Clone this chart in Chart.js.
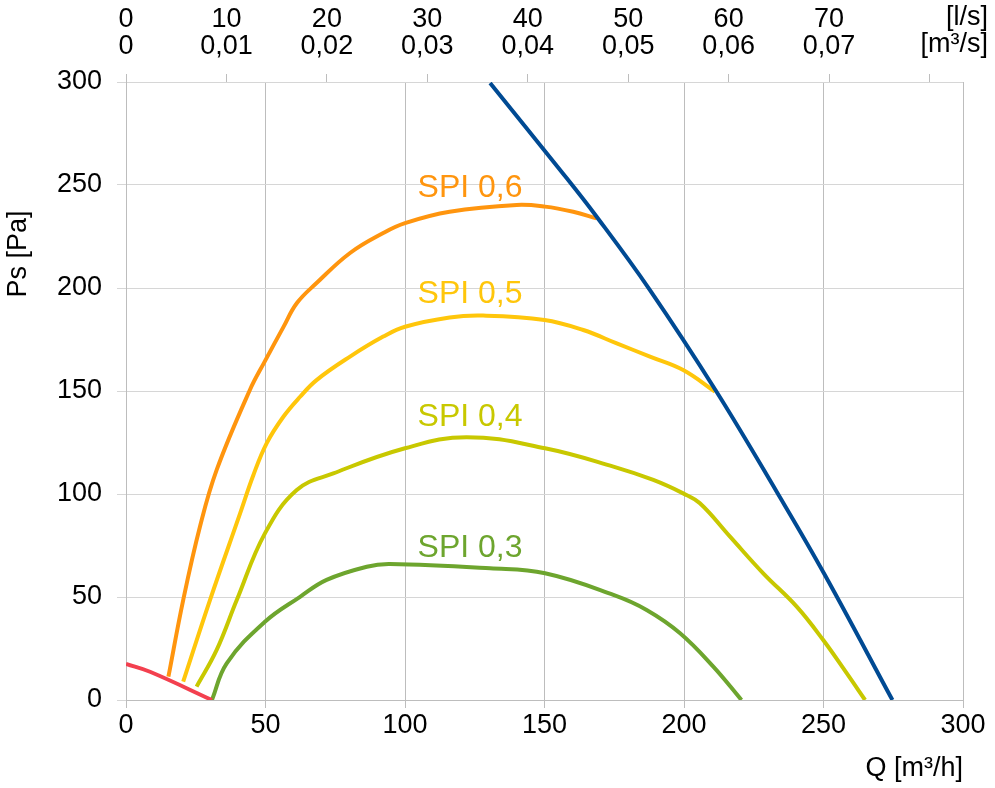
<!DOCTYPE html>
<html>
<head>
<meta charset="utf-8">
<script src="https://cdn.jsdelivr.net/npm/chart.js@4.4.1/dist/chart.umd.min.js"></script>
<style>
  html, body { margin: 0; padding: 0; background: #fff; }
  #wrap { width: 995px; height: 788px; }
</style>
</head>
<body>
<div id="wrap"><canvas id="chart"></canvas></div>
<script>
const FONT = '"Liberation Sans", Arial, sans-serif';

// axis ticks
const qTicks = [0, 50, 100, 150, 200, 250, 300];      // m3/h
const psTicks = [0, 50, 100, 150, 200, 250, 300];     // Pa
const lsTicks = [0, 10, 20, 30, 40, 50, 60, 70, 80];  // l/s (top)

// max curve (blue)
const maxQ = [130.5, 155.6, 168.7, 187.8, 211.5, 233.7, 250.5, 274.7];
const maxP = [299.5, 257.3, 234.6, 199, 150, 100, 60.7, 0];

// min curve (red)
const minQ = [0, 8.6, 30.8];
const minP = [17.5, 13.7, 0];

// SPI curves
const spi6Q = [15.2, 20.5, 26.5, 32.5, 44.4, 49.8, 56.4, 61.2, 68.3, 80.3, 92.2, 100, 116, 140, 150.2, 160.3, 168.7];
const spi6P = [11.3, 48.5, 84.1, 111.7, 150.5, 164.5, 181, 192.6, 202.4, 217, 226.7, 231.5, 237, 240.3, 239.5, 237, 233.8];

const spi5Q = [20.5, 30.1, 40.9, 45.6, 50.4, 56.4, 62.4, 68.3, 80.3, 92.2, 100, 116, 128, 150, 163.9, 175.9, 187.8, 199.7, 211.1];
const spi5P = [8.9, 48.5, 90.6, 109, 124.6, 137.5, 147.2, 155.3, 166.7, 176.4, 181.2, 185.7, 186.6, 184.5, 179.6, 173.1, 166.7, 160.2, 149.7];

const spi4Q = [25.3, 32.5, 39.7, 49.8, 61.2, 74.3, 100, 122.1, 150.2, 174.7, 189, 199.7, 205.7, 216.5, 228.4, 240.4, 249.9, 258.3, 264.9];
const spi4P = [6.5, 24.3, 48.5, 80.9, 101.9, 110, 122.2, 127.6, 122.2, 113.3, 106.8, 100.3, 95.5, 79.3, 61.5, 45.3, 29.1, 13, 0];

const spi3Q = [30.8, 36.1, 49.8, 62.4, 71.9, 86.3, 94.6, 130.5, 150.2, 174.7, 186.6, 198.6, 210.5, 220.6];
const spi3P = [0, 17.8, 38, 50.1, 58.3, 64.7, 66, 63.9, 61.5, 51, 43.7, 32.4, 16.2, 0];

// curve labels, anchored at (Q, Ps)
const spiNames = ['SPI 0,6', 'SPI 0,5', 'SPI 0,4', 'SPI 0,3'];
const spiLabelQ = [104.5, 104.5, 104.5, 104.5];
const spiLabelP = [244.3, 192.7, 132.8, 69.6];
const spiColors = ['#ff950e', '#ffc60b', '#c8c800', '#6da52e'];

const toPoints = (q, p) => q.map((v, i) => ({ x: v, y: p[i] }));

function curve(q, p, color) {
  return {
    data: toPoints(q, p),
    borderColor: color,
    borderWidth: 4,
    pointRadius: 0,
    fill: false,
    tension: 0.4,
  };
}

const textPlugin = {
  id: 'extraText',
  afterDatasetsDraw(chart) {
    const { ctx, scales } = chart;
    ctx.save();
    ctx.textBaseline = 'alphabetic';
    ctx.textAlign = 'left';
    ctx.font = '32px ' + FONT;
    spiNames.forEach((name, i) => {
      ctx.fillStyle = spiColors[i];
      ctx.fillText(name, scales.x.getPixelForValue(spiLabelQ[i]), scales.y.getPixelForValue(spiLabelP[i]));
    });

    // y axis title
    ctx.fillStyle = '#000';
    ctx.font = '27px ' + FONT;
    ctx.translate(19, 254);
    ctx.rotate(-Math.PI / 2);
    ctx.textAlign = 'center';
    ctx.textBaseline = 'middle';
    ctx.fillText('Ps [Pa]', 0, 0);
    ctx.restore();

    // top axis units
    ctx.save();
    ctx.fillStyle = '#000';
    ctx.font = '27px ' + FONT;
    ctx.textAlign = 'right';
    ctx.textBaseline = 'middle';
    ctx.fillText('[l/s]', 988, 18);
    ctx.fillText('[m³/s]', 988, 45);
    ctx.restore();
  }
};

const ctx = document.getElementById('chart').getContext('2d');
new Chart(ctx, {
  type: 'line',
  data: {
    datasets: [
      curve(maxQ, maxP, '#004a93'),
      curve(minQ, minP, '#f3404f'),
      curve(spi3Q, spi3P, spiColors[3]),
      curve(spi4Q, spi4P, spiColors[2]),
      curve(spi5Q, spi5P, spiColors[1]),
      curve(spi6Q, spi6P, spiColors[0]),
    ],
  },
  options: {
    responsive: true,
    maintainAspectRatio: false,
    animation: false,
    layout: { padding: { left: 0, right: 32, top: 0, bottom: 0 } },
    plugins: {
      legend: { display: false },
      tooltip: { enabled: false },
    },
    scales: {
      x: {
        type: 'linear',
        position: 'bottom',
        min: qTicks[0],
        max: qTicks[qTicks.length - 1],
        afterBuildTicks: (s) => { s.ticks = qTicks.map((v) => ({ value: v })); },
        afterFit: (s) => { s.height = 88; },
        ticks: {
          color: '#000',
          font: { family: FONT, size: 27 },
          padding: 1,
          maxRotation: 0,
        },
        grid: { color: '#bdbdbd', tickLength: 8 },
        border: { color: '#bdbdbd' },
        title: {
          display: true,
          text: 'Q [m³/h]',
          align: 'end',
          color: '#000',
          font: { family: FONT, size: 27 },
          padding: { top: 0, bottom: 3 },
        },
      },
      xTop: {
        type: 'linear',
        position: 'top',
        min: 0,
        max: 300 / 3.6,
        afterBuildTicks: (s) => { s.ticks = lsTicks.map((v) => ({ value: v })); },
        afterFit: (s) => { s.height = 82; },
        ticks: {
          color: '#000',
          font: { family: FONT, size: 27, lineHeight: 1 },
          padding: 14,
          maxRotation: 0,
          autoSkip: false,
          callback: (v) => v >= 80 ? '' : [String(v), v === 0 ? '0' : (v / 1000).toFixed(2).replace('.', ',')],
        },
        grid: { drawOnChartArea: false, color: '#bdbdbd', tickLength: 8 },
        border: { display: false },
      },
      y: {
        type: 'linear',
        min: psTicks[0],
        max: psTicks[psTicks.length - 1],
        afterBuildTicks: (s) => { s.ticks = psTicks.map((v) => ({ value: v })); },
        afterFit: (s) => { s.width = 126; },
        ticks: {
          color: '#000',
          font: { family: FONT, size: 27 },
          padding: 15,
        },
        grid: { color: '#d6d6d6', tickLength: 9 },
        border: { color: '#bdbdbd' },
      },
    },
  },
  plugins: [textPlugin],
});
</script>
</body>
</html>
